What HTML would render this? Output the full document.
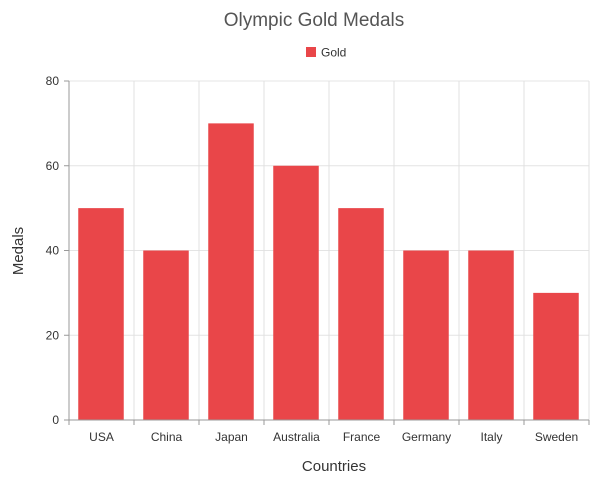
<!DOCTYPE html>
<html><head><meta charset="utf-8"><style>
body{margin:0;background:#fff;font-family:"Liberation Sans",sans-serif}
</style></head><body>
<svg id="c" width="597" height="486" style="display:block">
<text x="314" y="26" text-anchor="middle" font-size="19" fill="#555">Olympic Gold Medals</text>
<g>
<rect x="306" y="47" width="10" height="10" fill="#E94649"/>
<text x="321" y="56.5" font-size="12" fill="#333">Gold</text>
</g>
<text x="334" y="471" text-anchor="middle" font-size="15" fill="#333">Countries</text>
<text transform="translate(23,251) rotate(-90)" text-anchor="middle" font-size="15" fill="#333">Medals</text>
<g id="plot"></g>
</svg>
<script>
const categories=["USA","China","Japan","Australia","France","Germany","Italy","Sweden"];
const gold=[50,40,70,60,50,40,40,30];
const yTicks=[0,20,40,60,80];
const L=69,R=589,T=81,B=420,yMax=80;
const cw=(R-L)/categories.length;
const y=v=>B-(v/yMax)*(B-T);
const x=i=>L+i*cw;
const ns="http://www.w3.org/2000/svg";
const g=document.getElementById('plot');
function mk(t,a){const e=document.createElementNS(ns,t);for(const k in a)e.setAttribute(k,a[k]);g.appendChild(e);return e;}
yTicks.forEach(v=>{
  if(v>0){const l=mk('line',{x1:L,x2:R,y1:y(v),y2:y(v),stroke:'#e4e4e4','stroke-width':1});
  
  }
  mk('line',{x1:L-5,x2:L,y1:y(v),y2:y(v),stroke:'#999'});
  const t=mk('text',{x:L-10,y:y(v)+4,'text-anchor':'end','font-size':12,fill:'#333'});t.textContent=v;
  
  
});
for(let i=1;i<=categories.length;i++){
  mk('line',{x1:x(i),x2:x(i),y1:T,y2:B,stroke:'#e0e0e0'});
}
for(let i=0;i<=categories.length;i++){mk('line',{x1:x(i),x2:x(i),y1:B,y2:B+5,stroke:'#999'});}
categories.forEach((c,i)=>{
  const bw=cw*0.7;
  const r=mk('rect',{x:x(i)+(cw-bw)/2-0.5,y:y(gold[i]),width:bw,height:B-y(gold[i]),fill:'#E94649'});
  
  
  const t=mk('text',{x:x(i)+cw/2,y:B+21,'text-anchor':'middle','font-size':12,fill:'#333'});t.textContent=c;
  
  
});
mk('line',{x1:L,x2:L,y1:T,y2:B,stroke:'#999'});
mk('line',{x1:L,x2:R,y1:B,y2:B,stroke:'#999'});
</script>
</body></html>
